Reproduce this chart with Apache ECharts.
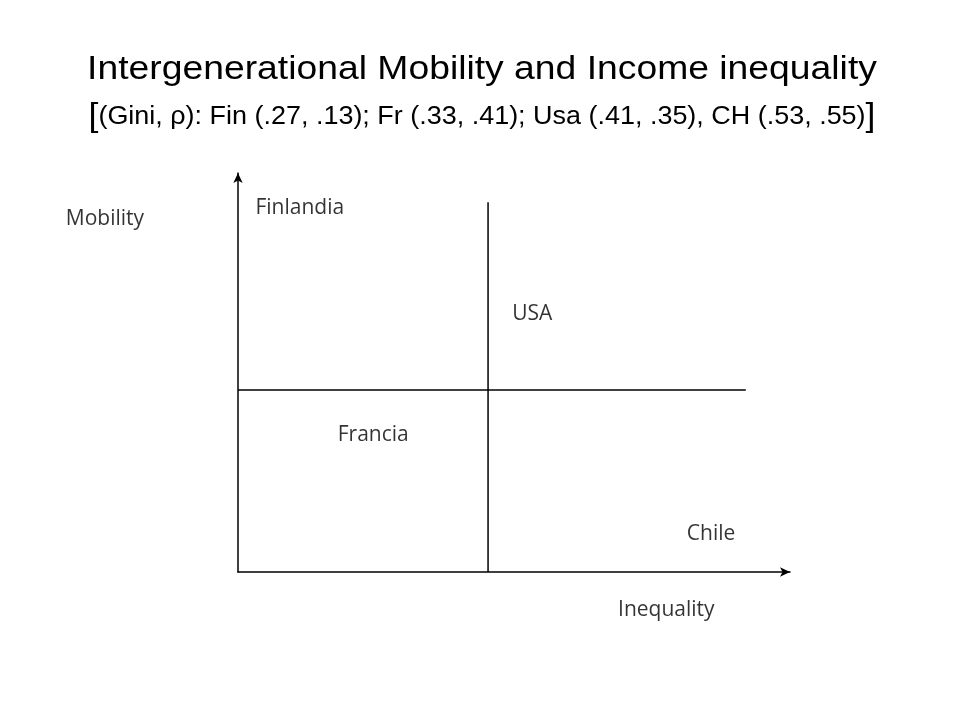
<!DOCTYPE html>
<html lang="en">
<head>
    <meta charset="UTF-8">
    <title>Intergenerational Mobility and Income inequality</title>
    <script src="https://cdn.jsdelivr.net/npm/echarts@6/dist/echarts.min.js"></script>
    <style>
        html, body { margin: 0; padding: 0; background: #fff; }
        #chart { width: 960px; height: 720px; }
    </style>
</head>
<body>
<div id="chart"></div>
<script>
    // schematic positions in a 0..1 box (x = inequality, y = mobility)
    var countryNames = ['Finlandia', 'USA', 'Francia', 'Chile'];
    var countryX = [0.112, 0.533, 0.245, 0.857];
    var countryY = [0.913, 0.647, 0.343, 0.095];

    var axisNames = ['Mobility', 'Inequality'];
    var axisNameX = [-0.241, 0.776];
    var axisNameY = [0.885, -0.096];

    // quadrant split lines
    var splitX = 0.453;
    var splitXTop = 0.927;
    var splitY = 0.456;
    var splitYRight = 0.920;

    var titleLine = 'Intergenerational Mobility and Income inequality';
    var subLine = '(Gini, \u03c1): Fin (.27, .13); Fr (.33, .41); Usa (.41, .35), CH (.53, .55)';

    var titleFont = '"Liberation Sans", Arial, sans-serif';
    var labelFont = '"Open Sans", sans-serif';

    function toPoints(xs, ys, names) {
        var out = [];
        for (var i = 0; i < xs.length; i++) {
            out.push({ value: [xs[i], ys[i]], name: names[i] });
        }
        return out;
    }

    var chart = echarts.init(document.getElementById('chart'));

    var option = {
        backgroundColor: '#fff',
        animation: false,
        // the slide title is a bit stretched sideways, so it is drawn as scaled text
        graphic: [
            {
                type: 'text',
                x: 482,
                y: 70,
                scaleX: 1.13,
                silent: true,
                style: {
                    text: titleLine,
                    fontFamily: titleFont,
                    fontSize: 33,
                    fill: '#000',
                    textAlign: 'center',
                    textVerticalAlign: 'middle'
                }
            },
            {
                type: 'text',
                x: 482,
                y: 117,
                scaleX: 1.078,
                silent: true,
                style: {
                    text: '{b|[}{t|' + subLine + '}{b|]}',
                    fill: '#000',
                    textAlign: 'center',
                    textVerticalAlign: 'middle',
                    rich: {
                        b: { fontFamily: titleFont, fontSize: 33, fill: '#000', verticalAlign: 'middle' },
                        t: { fontFamily: titleFont, fontSize: 25, fill: '#000', verticalAlign: 'middle' }
                    }
                }
            }
        ],
        grid: { left: 238, top: 173, width: 552, height: 399 },
        xAxis: {
            type: 'value',
            min: 0,
            max: 1,
            axisLine: {
                onZero: false,
                symbol: ['none', 'arrow'],
                symbolSize: [7, 10],
                lineStyle: { color: '#000', width: 1.5 }
            },
            axisTick: { show: false },
            axisLabel: { show: false },
            splitLine: { show: false }
        },
        yAxis: {
            type: 'value',
            min: 0,
            max: 1,
            axisLine: {
                show: true,
                onZero: false,
                symbol: ['none', 'arrow'],
                symbolSize: [7, 10],
                lineStyle: { color: '#000', width: 1.5 }
            },
            axisTick: { show: false },
            axisLabel: { show: false },
            splitLine: { show: false }
        },
        series: [
            {
                type: 'line',
                data: [[splitX, 0], [splitX, splitXTop]],
                symbol: 'none',
                lineStyle: { color: '#000', width: 1.5 },
                silent: true
            },
            {
                type: 'line',
                data: [[0, splitY], [splitYRight, splitY]],
                symbol: 'none',
                lineStyle: { color: '#000', width: 1.5 },
                silent: true
            },
            {
                type: 'scatter',
                clip: false,
                symbolSize: 0,
                data: toPoints(countryX, countryY, countryNames).concat(toPoints(axisNameX, axisNameY, axisNames)),
                label: {
                    show: true,
                    position: 'inside',
                    formatter: '{b}',
                    fontFamily: labelFont,
                    fontSize: 21,
                    color: '#000'
                },
                silent: true
            }
        ]
    };

    chart.setOption(option);
</script>
</body>
</html>
